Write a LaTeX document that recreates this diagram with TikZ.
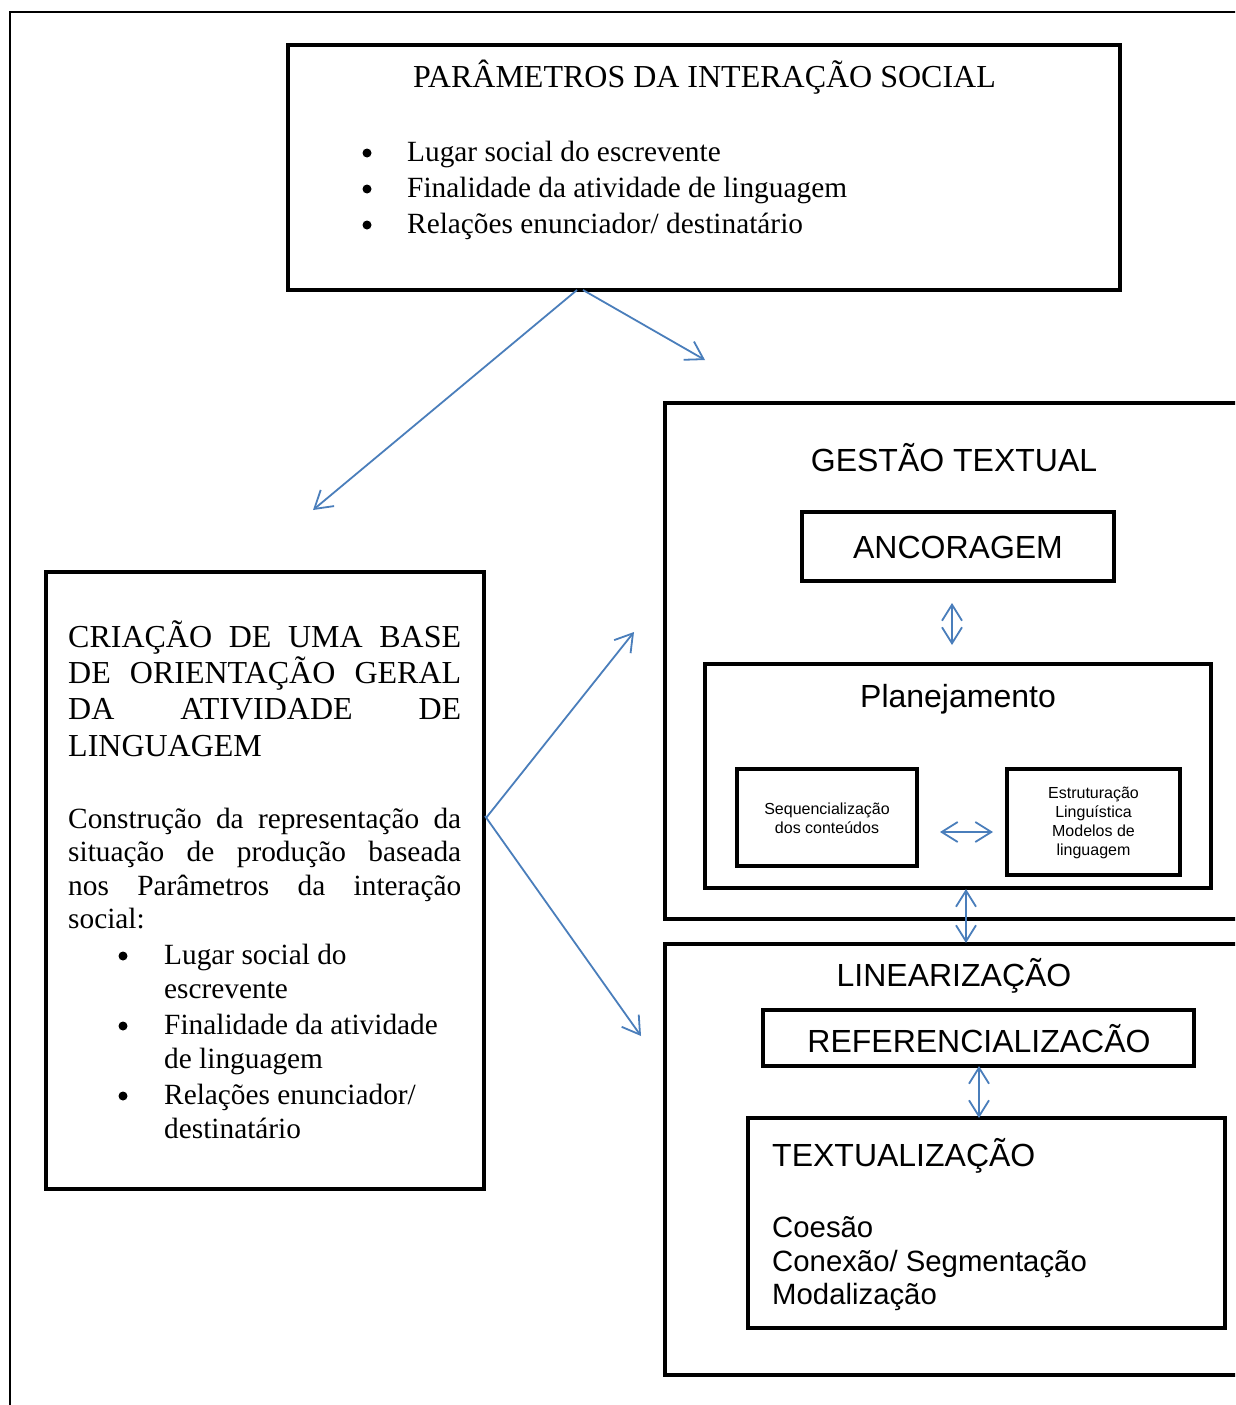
\documentclass[tikz,border=0pt]{standalone}
\usepackage{fontspec}
\setmainfont{Liberation Serif}
\newfontfamily\arialf{Liberation Sans}
\usetikzlibrary{arrows.meta}
\definecolor{arrowblue}{HTML}{4A7EBB}
\begin{document}
\begin{tikzpicture}[x=1pt,y=-1pt,
  boxed/.style={draw, line width=4pt, rectangle, inner sep=0pt},
  serif/.style={font=\fontsize{32}{36}\selectfont, inner sep=0pt},
  serifb/.style={font=\fontsize{29.33}{34}\selectfont, inner sep=0pt},
  sans/.style={font=\arialf\fontsize{32}{36}\selectfont, inner sep=0pt},
  sansb/.style={font=\arialf\fontsize{29.33}{34}\selectfont, inner sep=0pt},
  small/.style={font=\arialf\fontsize{16}{19}\selectfont, inner sep=0pt, align=center},
  dot/.style={circle, fill, inner sep=0pt, minimum size=9pt},
  link/.style={draw=arrowblue, line width=1.8pt, -{Straight Barb[length=17pt,width=21pt]}},
  dlink/.style={draw=arrowblue, line width=1.8pt, {Straight Barb[length=16pt,width=20pt]}-{Straight Barb[length=16pt,width=20pt]}}
]
\useasboundingbox (0,0) rectangle (1235,1405);
\clip (0,0) rectangle (1235,1405);
\fill[white] (0,0) rectangle (1235,1405);

% outer frame
\draw[line width=2pt] (10,1420) -- (10,12) -- (1250,12);

% boxes
\node[boxed, minimum width=832pt, minimum height=245pt] (top) at (704,167.5) {};
\node[boxed, minimum width=438pt, minimum height=617pt] (left) at (265,880.5) {};
\node[boxed, minimum width=590pt, minimum height=516pt] (gestao) at (960,661) {};
\node[boxed, minimum width=590pt, minimum height=431pt] (linear) at (960,1159.5) {};
\node[boxed, minimum width=312pt, minimum height=69pt] (ancor) at (958,546.5) {};
\node[boxed, minimum width=506pt, minimum height=224pt] (plan) at (958,776) {};
\node[boxed, minimum width=180pt, minimum height=97pt] (seq) at (827,817.5) {};
\node[boxed, minimum width=173pt, minimum height=106pt] (estr) at (1093.5,822) {};
\node[boxed, minimum width=431pt, minimum height=56pt] (ref) at (978.5,1038) {};
\node[boxed, minimum width=477pt, minimum height=210pt] (textu) at (986.5,1223) {};

% top box text
\node[serif, anchor=base] (tt) at (704.5,88) {PARÂMETROS DA INTERAÇÃO SOCIAL};
\node[dot] (tb1) at (367,153) {};
\node[dot] (tb2) at (367,189) {};
\node[dot] (tb3) at (367,225) {};
\node[serifb, anchor=base west] (tl1) at (407,161) {Lugar social do escrevente};
\node[serifb, anchor=base west] (tl2) at (407,197) {Finalidade da atividade de linguagem};
\node[serifb, anchor=base west] (tl3) at (407,233) {Relações enunciador/ destinatário};

% left box text
\node[serif, anchor=base west] (ll1) at (68,647) {\makebox[393pt][s]{CRIAÇÃO DE UMA BASE}};
\node[serif, anchor=base west] (ll2) at (68,683) {\makebox[393pt][s]{DE ORIENTAÇÃO GERAL}};
\node[serif, anchor=base west] (ll3) at (68,719) {\makebox[393pt][s]{DA ATIVIDADE DE}};
\node[serif, anchor=base west] (ll4) at (68,756) {LINGUAGEM};
\node[serifb, anchor=base west] (ll5) at (68,828) {\makebox[393pt][s]{Construção da representação da}};
\node[serifb, anchor=base west] (ll6) at (68,861) {\makebox[393pt][s]{situação de produção baseada}};
\node[serifb, anchor=base west] (ll7) at (68,895) {\makebox[393pt][s]{nos Parâmetros da interação}};
\node[serifb, anchor=base west] (ll8) at (68,928) {social:};
\node[dot] (lb1) at (123,956) {};
\node[dot] (lb2) at (123,1026) {};
\node[dot] (lb3) at (123,1096) {};
\node[serifb, anchor=base west] (li1) at (164,964) {Lugar social do};
\node[serifb, anchor=base west] (li2) at (164,998) {escrevente};
\node[serifb, anchor=base west] (li3) at (164,1034) {Finalidade da atividade};
\node[serifb, anchor=base west] (li4) at (164,1068) {de linguagem};
\node[serifb, anchor=base west] (li5) at (164,1104) {Relações enunciador/};
\node[serifb, anchor=base west] (li6) at (164,1138) {destinatário};

% right side texts
\node[sans, anchor=base] (gt) at (954,471) {GESTÃO TEXTUAL};
\node[sans, anchor=base] (at) at (958,558) {ANCORAGEM};
\node[sans, anchor=base] (pt) at (958,707) {Planejamento};
\node[small, anchor=base] (st) at (827,833) {Sequencialização\\dos conteúdos};
\node[small, anchor=base] (et) at (1093.5,855) {Estruturação\\Linguística\\Modelos de\\linguagem};
\node[sans, anchor=base] (lt) at (954,986) {LINEARIZAÇÃO};
\node[sans, anchor=base] (rt) at (979,1052) {REFERENCIALIZACÃO};
\node[sans, anchor=base west] (xt) at (772,1166) {TEXTUALIZAÇÃO};
\node[sansb, anchor=base west] (x1) at (772,1237) {Coesão};
\node[sansb, anchor=base west] (x2) at (772,1271) {Conexão/ Segmentação};
\node[sansb, anchor=base west] (x3) at (772,1304) {Modalização};

% connector ends
\coordinate (a1s) at (577,290);
\coordinate (a1e) at (313,510);
\coordinate (a2s) at (583,290);
\coordinate (a2e) at (705,360);
\coordinate (a3s) at (486,818);
\coordinate (a3e) at (634,632);
\coordinate (a4s) at (485,816);
\coordinate (a4e) at (641,1036);

\draw[link] (a1s) -- (a1e);
\draw[link] (a2s) -- (a2e);
\draw[link] (a3s) -- (a3e);
\draw[link] (a4s) -- (a4e);

\coordinate (d1a) at (952,603);
\coordinate (d1b) at (952,645);
\coordinate (d2a) at (966,889);
\coordinate (d2b) at (966,943);
\coordinate (d3a) at (979,1066);
\coordinate (d3b) at (979,1118);
\coordinate (d4a) at (940,832);
\coordinate (d4b) at (993,832);
\draw[dlink] (d1a) -- (d1b);
\draw[dlink] (d2a) -- (d2b);
\draw[dlink] (d3a) -- (d3b);
\draw[dlink] (d4a) -- (d4b);
\end{tikzpicture}
\end{document}
